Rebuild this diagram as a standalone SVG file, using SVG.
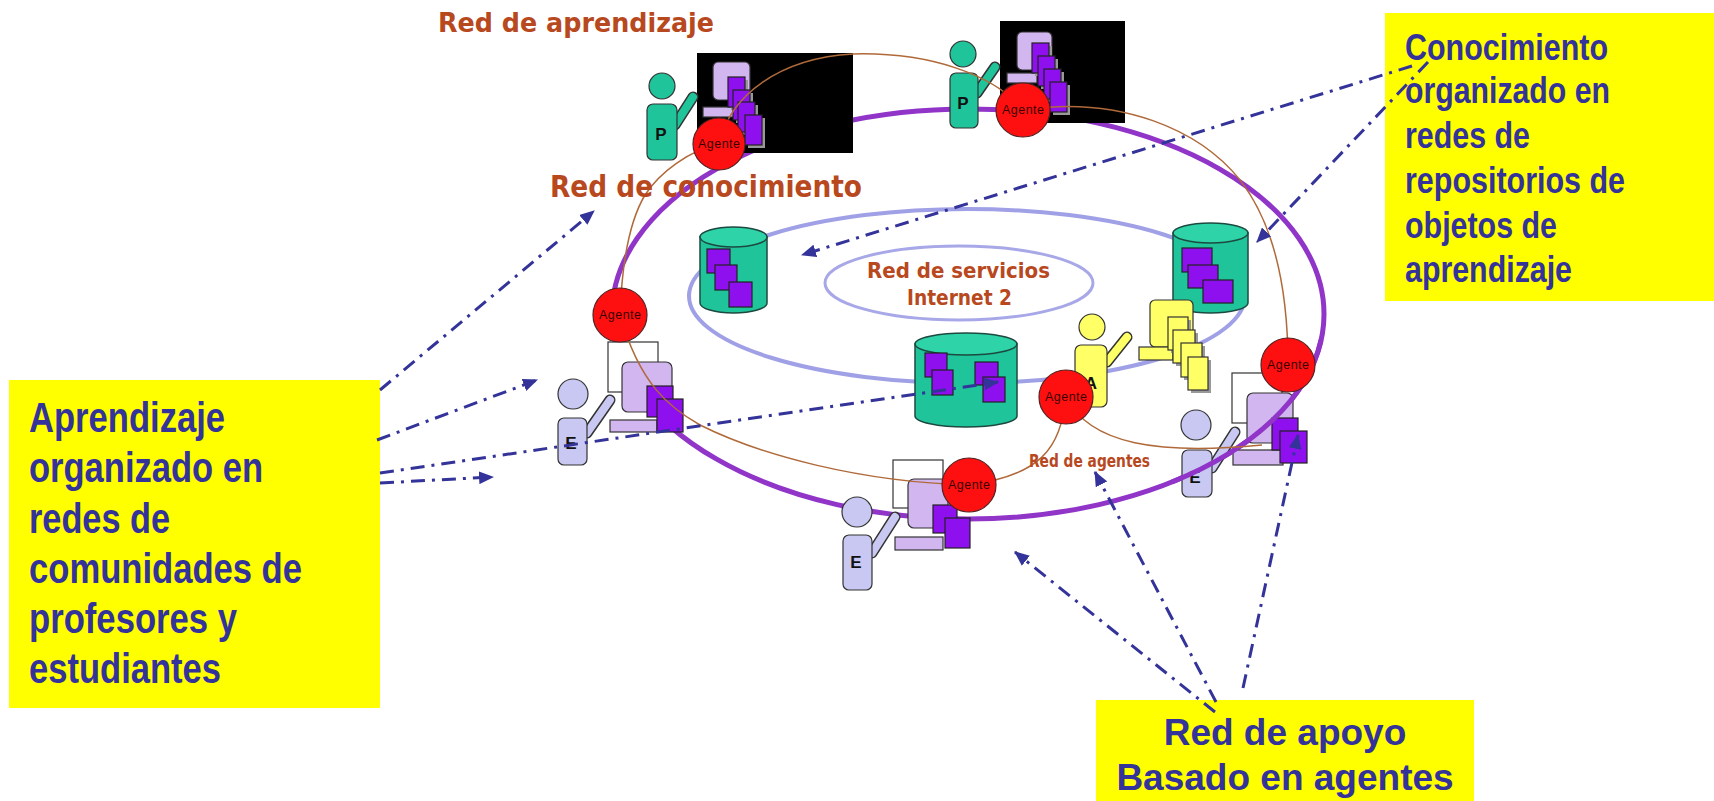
<svg xmlns="http://www.w3.org/2000/svg" width="1714" height="801" viewBox="0 0 1714 801">
<style>
.lbl{font-family:"DejaVu Sans","Liberation Sans",sans-serif;font-weight:bold;fill:#B8481E}
.box{fill:#FFFF00}
.boxt{font-family:"Liberation Sans",Arial,sans-serif;font-weight:bold;fill:#333399}
.ag{fill:#FF1010;stroke:#552222;stroke-width:1.2}
.agt{font-family:"Liberation Sans",Arial,sans-serif;font-size:12.5px;fill:#3a0000}
.mon{fill:#D2B6F0;stroke:#333;stroke-width:1.2}
.doc{fill:#8E10EE;stroke:#222;stroke-width:1.2}
.wht{fill:#FFFFFF;stroke:#333;stroke-width:1.2}
.teal{fill:#20C49A;stroke:#333;stroke-width:1.2}
.lav{fill:#C8C8F2;stroke:#333;stroke-width:1.2}
.yel{fill:#FFFF66;stroke:#333;stroke-width:1.2}
.shadow{fill:#999}
.armo{stroke:#333;stroke-width:11;stroke-linecap:round}
.let{font-family:"Liberation Sans",Arial,sans-serif;font-weight:bold;font-size:17px;fill:#111;text-anchor:middle}
.cyl{fill:#20C49A;stroke:#1c4a40;stroke-width:1.5}
.cyltop{fill:#2ED3A8;stroke:#1c4a40;stroke-width:1.5}
.brown{fill:none;stroke:#B06A3A;stroke-width:1.5}
.dd{fill:none;stroke:#333399;stroke-width:3;stroke-dasharray:14 7 3 7;marker-end:url(#ah)}
</style>
<defs>
<marker id="ah" viewBox="0 0 14 12" refX="13" refY="6" markerWidth="15" markerHeight="13" markerUnits="userSpaceOnUse" orient="auto">
<path d="M0,0 L14,6 L0,12 z" fill="#333399"/>
</marker>
</defs>
<rect width="1714" height="801" fill="#FFFFFF"/>

<g id="rings">
<ellipse cx="967" cy="296" rx="278" ry="87" fill="none" stroke="#A0A0E6" stroke-width="4"/>
<ellipse cx="959" cy="283" rx="134" ry="37" fill="none" stroke="#A8A8E8" stroke-width="3"/>
<ellipse cx="968" cy="314" rx="356" ry="205" fill="none" stroke="#9035C8" stroke-width="5"/>
</g>

<g id="cyl-left">
<path class="cyl" d="M700,237 L700,303 A33.5,10 0 0 0 767,303 L767,237 Z"/>
<ellipse class="cyltop" cx="733.5" cy="237" rx="33.5" ry="10"/>
<rect class="doc" x="707" y="249" width="23" height="24"/>
<rect class="doc" x="715" y="265" width="22" height="25"/>
<rect class="doc" x="729" y="282" width="23" height="25"/>
</g>

<g id="cyl-right">
<path class="cyl" d="M1173,233 L1173,303 A37.5,10 0 0 0 1248,303 L1248,233 Z"/>
<ellipse class="cyltop" cx="1210.5" cy="233" rx="37.5" ry="10"/>
<rect class="doc" x="1182" y="248" width="30" height="24"/>
<rect class="doc" x="1188" y="265" width="30" height="23"/>
<rect class="doc" x="1203" y="280" width="30" height="23"/>
</g>

<g id="cyl-center">
<path class="cyl" d="M915,344 L915,416 A51,11 0 0 0 1017,416 L1017,344 Z"/>
<ellipse class="cyltop" cx="966" cy="344" rx="51" ry="11"/>
<rect class="doc" x="925" y="353" width="22" height="24"/>
<rect class="doc" x="932" y="370" width="21" height="25"/>
<rect class="doc" x="975" y="362" width="23" height="23"/>
<rect class="doc" x="983" y="377" width="22" height="25"/>
</g>

<g id="teacher-1">
<rect x="697" y="53" width="156" height="100" fill="#000"/>
<rect class="mon" x="713" y="62" width="37" height="38" rx="5"/>
<rect class="mon" x="703" y="107" width="32" height="10"/>
<rect class="shadow" x="731" y="80" width="17" height="30"/>
<rect class="doc" x="728" y="77" width="17" height="30"/>
<rect class="shadow" x="736" y="93" width="17" height="30"/>
<rect class="doc" x="733" y="90" width="17" height="30"/>
<rect class="shadow" x="741" y="105" width="17" height="30"/>
<rect class="doc" x="738" y="102" width="17" height="30"/>
<rect class="shadow" x="748" y="118" width="17" height="30"/>
<rect class="doc" x="745" y="115" width="17" height="30"/>
<line class="armo" x1="675" y1="125" x2="693" y2="97"/>
<line x1="675" y1="125" x2="693" y2="97" stroke="#20C49A" stroke-width="8" stroke-linecap="round"/>
<rect class="teal" x="647" y="104" width="30" height="56" rx="6"/>
<circle class="teal" cx="662" cy="86" r="13"/>
<text class="let" x="661" y="140">P</text>
</g>

<g id="teacher-2">
<rect x="1000" y="21" width="125" height="102" fill="#000"/>
<rect class="mon" x="1017" y="32" width="35" height="38" rx="5"/>
<rect class="mon" x="1007" y="73" width="30" height="10"/>
<rect class="shadow" x="1035" y="46" width="17" height="30"/>
<rect class="doc" x="1032" y="43" width="17" height="30"/>
<rect class="shadow" x="1041" y="59" width="17" height="30"/>
<rect class="doc" x="1038" y="56" width="17" height="30"/>
<rect class="shadow" x="1047" y="72" width="17" height="30"/>
<rect class="doc" x="1044" y="69" width="17" height="30"/>
<rect class="shadow" x="1053" y="85" width="17" height="30"/>
<rect class="doc" x="1050" y="82" width="17" height="30"/>
<line class="armo" x1="977" y1="93" x2="995" y2="67"/>
<line x1="977" y1="93" x2="995" y2="67" stroke="#20C49A" stroke-width="8" stroke-linecap="round"/>
<rect class="teal" x="950" y="73" width="28" height="55" rx="6"/>
<circle class="teal" cx="963" cy="54" r="13"/>
<text class="let" x="963" y="109">P</text>
</g>

<g id="assistant-A">
<rect class="yel" x="1150" y="300" width="43" height="47" rx="5"/>
<rect class="yel" x="1139" y="347" width="34" height="13"/>
<rect class="shadow" x="1171" y="320" width="20" height="33"/>
<rect class="yel" x="1168" y="317" width="20" height="33"/>
<rect class="shadow" x="1176" y="333" width="22" height="33"/>
<rect class="yel" x="1173" y="330" width="22" height="33"/>
<rect class="shadow" x="1184" y="346" width="21" height="34"/>
<rect class="yel" x="1181" y="343" width="21" height="34"/>
<rect class="shadow" x="1191" y="360" width="20" height="33"/>
<rect class="yel" x="1188" y="357" width="20" height="33"/>
<line class="armo" x1="1107" y1="362" x2="1127" y2="337"/>
<line x1="1107" y1="362" x2="1127" y2="337" stroke="#FFFF66" stroke-width="8" stroke-linecap="round"/>
<rect class="yel" x="1075" y="345" width="32" height="62" rx="6"/>
<circle class="yel" cx="1092" cy="327" r="13"/>
<text class="let" x="1091" y="389">A</text>
</g>

<g id="student-left">
<rect class="wht" x="608" y="342" width="50" height="50"/>
<rect class="mon" x="622" y="362" width="50" height="50" rx="6"/>
<rect class="mon" x="610" y="420" width="47" height="12"/>
<rect class="doc" x="647" y="386" width="26" height="31"/>
<rect class="doc" x="657" y="399" width="26" height="33"/>
<line class="armo" x1="587" y1="433" x2="610" y2="400"/>
<line x1="587" y1="433" x2="610" y2="400" stroke="#C8C8F2" stroke-width="8" stroke-linecap="round"/>
<rect class="lav" x="558" y="418" width="29" height="47" rx="6"/>
<circle class="lav" cx="573" cy="394" r="15"/>
<text class="let" x="571" y="449">E</text>
</g>

<g id="student-bottom">
<rect class="wht" x="893" y="460" width="50" height="48"/>
<rect class="mon" x="908" y="479" width="40" height="49" rx="6"/>
<rect class="mon" x="895" y="537" width="48" height="13"/>
<rect class="doc" x="933" y="505" width="24" height="28"/>
<rect class="doc" x="945" y="518" width="25" height="30"/>
<line class="armo" x1="872" y1="553" x2="895" y2="517"/>
<line x1="872" y1="553" x2="895" y2="517" stroke="#C8C8F2" stroke-width="8" stroke-linecap="round"/>
<rect class="lav" x="843" y="535" width="29" height="55" rx="6"/>
<circle class="lav" cx="857" cy="512" r="15"/>
<text class="let" x="856" y="568">E</text>
</g>

<g id="student-right">
<rect class="wht" x="1232" y="373" width="50" height="50"/>
<rect class="mon" x="1247" y="393" width="46" height="50" rx="6"/>
<rect class="mon" x="1233" y="450" width="50" height="15"/>
<rect class="doc" x="1272" y="418" width="26" height="32"/>
<rect class="doc" x="1280" y="431" width="27" height="32"/>
<line class="armo" x1="1212" y1="468" x2="1235" y2="432"/>
<line x1="1212" y1="468" x2="1235" y2="432" stroke="#C8C8F2" stroke-width="8" stroke-linecap="round"/>
<rect class="lav" x="1182" y="450" width="30" height="47" rx="6"/>
<circle class="lav" cx="1196" cy="425" r="15"/>
<text class="let" x="1195" y="483">E</text>
</g>

<g id="connectors">
<path d="M1321,340 A356,205 0 0 1 1172,482" fill="none" stroke="#9035C8" stroke-width="5"/>
<path class="brown" d="M620,315 C622,260 630,220 645,195 C660,172 690,150 719,144"/>
<path class="brown" d="M719,144 C730,95 780,58 853,54 C930,52 995,75 1023,110"/>
<path class="brown" d="M1023,110 C1120,95 1200,130 1240,180 C1275,225 1288,290 1288,365"/>
<path class="brown" d="M1066,397 C1090,445 1160,455 1262,445"/>
<path class="brown" d="M1066,397 C1060,450 1040,475 969,485"/>
<path class="brown" d="M969,485 C860,482 760,455 700,425 C670,408 640,385 620,315"/>
</g>

<g id="agent-1"><circle class="ag" cx="719" cy="144" r="26"/><text class="agt" x="698" y="148" textLength="42">Agente</text></g>
<g id="agent-2"><circle class="ag" cx="1023" cy="110" r="27"/><text class="agt" x="1002" y="114" textLength="42">Agente</text></g>
<g id="agent-left"><circle class="ag" cx="620" cy="315" r="27"/><text class="agt" x="599" y="319" textLength="42">Agente</text></g>
<g id="agent-A"><circle class="ag" cx="1066" cy="397" r="27"/><text class="agt" x="1045" y="401" textLength="42">Agente</text></g>
<g id="agent-bottom"><circle class="ag" cx="969" cy="485" r="27"/><text class="agt" x="948" y="489" textLength="42">Agente</text></g>
<g id="agent-right"><circle class="ag" cx="1288" cy="365" r="27"/><text class="agt" x="1267" y="369" textLength="42">Agente</text></g>

<g id="labels">
<text class="lbl" x="438" y="32" font-size="27" textLength="276" lengthAdjust="spacingAndGlyphs">Red de aprendizaje</text>
<text class="lbl" x="550" y="197" font-size="30" textLength="312" lengthAdjust="spacingAndGlyphs">Red de conocimiento</text>
<text class="lbl" x="867" y="278" font-size="21" textLength="183" lengthAdjust="spacingAndGlyphs">Red de servicios</text>
<text class="lbl" x="907" y="305" font-size="21" textLength="105" lengthAdjust="spacingAndGlyphs">Internet 2</text>
<text class="lbl" x="1029" y="467" font-size="17" textLength="121" lengthAdjust="spacingAndGlyphs">Red de agentes</text>
</g>

<g id="box-aprendizaje">
<rect class="box" x="9" y="380" width="371" height="328"/>
<text class="boxt" x="29" y="432" font-size="42" textLength="196" lengthAdjust="spacingAndGlyphs">Aprendizaje</text>
<text class="boxt" x="29" y="482" font-size="42" textLength="234" lengthAdjust="spacingAndGlyphs">organizado en</text>
<text class="boxt" x="29" y="533" font-size="42" textLength="141" lengthAdjust="spacingAndGlyphs">redes de</text>
<text class="boxt" x="29" y="583" font-size="42" textLength="273" lengthAdjust="spacingAndGlyphs">comunidades de</text>
<text class="boxt" x="29" y="633" font-size="42" textLength="208" lengthAdjust="spacingAndGlyphs">profesores y</text>
<text class="boxt" x="29" y="683" font-size="42" textLength="192" lengthAdjust="spacingAndGlyphs">estudiantes</text>
</g>

<g id="box-conocimiento">
<rect class="box" x="1385" y="13" width="329" height="288"/>
<text class="boxt" x="1405" y="60" font-size="37" textLength="203" lengthAdjust="spacingAndGlyphs">Conocimiento</text>
<text class="boxt" x="1405" y="103" font-size="37" textLength="205" lengthAdjust="spacingAndGlyphs">organizado en</text>
<text class="boxt" x="1405" y="148" font-size="37" textLength="125" lengthAdjust="spacingAndGlyphs">redes de</text>
<text class="boxt" x="1405" y="193" font-size="37" textLength="220" lengthAdjust="spacingAndGlyphs">repositorios de</text>
<text class="boxt" x="1405" y="238" font-size="37" textLength="152" lengthAdjust="spacingAndGlyphs">objetos de</text>
<text class="boxt" x="1405" y="282" font-size="37" textLength="167" lengthAdjust="spacingAndGlyphs">aprendizaje</text>
</g>

<g id="box-apoyo">
<rect class="box" x="1096" y="700" width="378" height="101"/>
<text class="boxt" x="1285" y="745" font-size="37" text-anchor="middle">Red de apoyo</text>
<text class="boxt" x="1285" y="790" font-size="37" text-anchor="middle">Basado en agentes</text>
</g>

<g id="arrows">
<path class="dd" d="M380,390 L594,211"/>
<path class="dd" d="M377,440 L537,380"/>
<path class="dd" d="M380,473 L998,382"/>
<path class="dd" d="M380,483 L493,477"/>
<path class="dd" d="M1412,66 L802,255"/>
<path class="dd" d="M1428,62 L1257,242"/>
<path class="dd" d="M1215,712 L1015,552"/>
<path class="dd" d="M1216,702 L1095,472"/>
<path class="dd" d="M1243,688 L1298,435"/>
</g>
</svg>
